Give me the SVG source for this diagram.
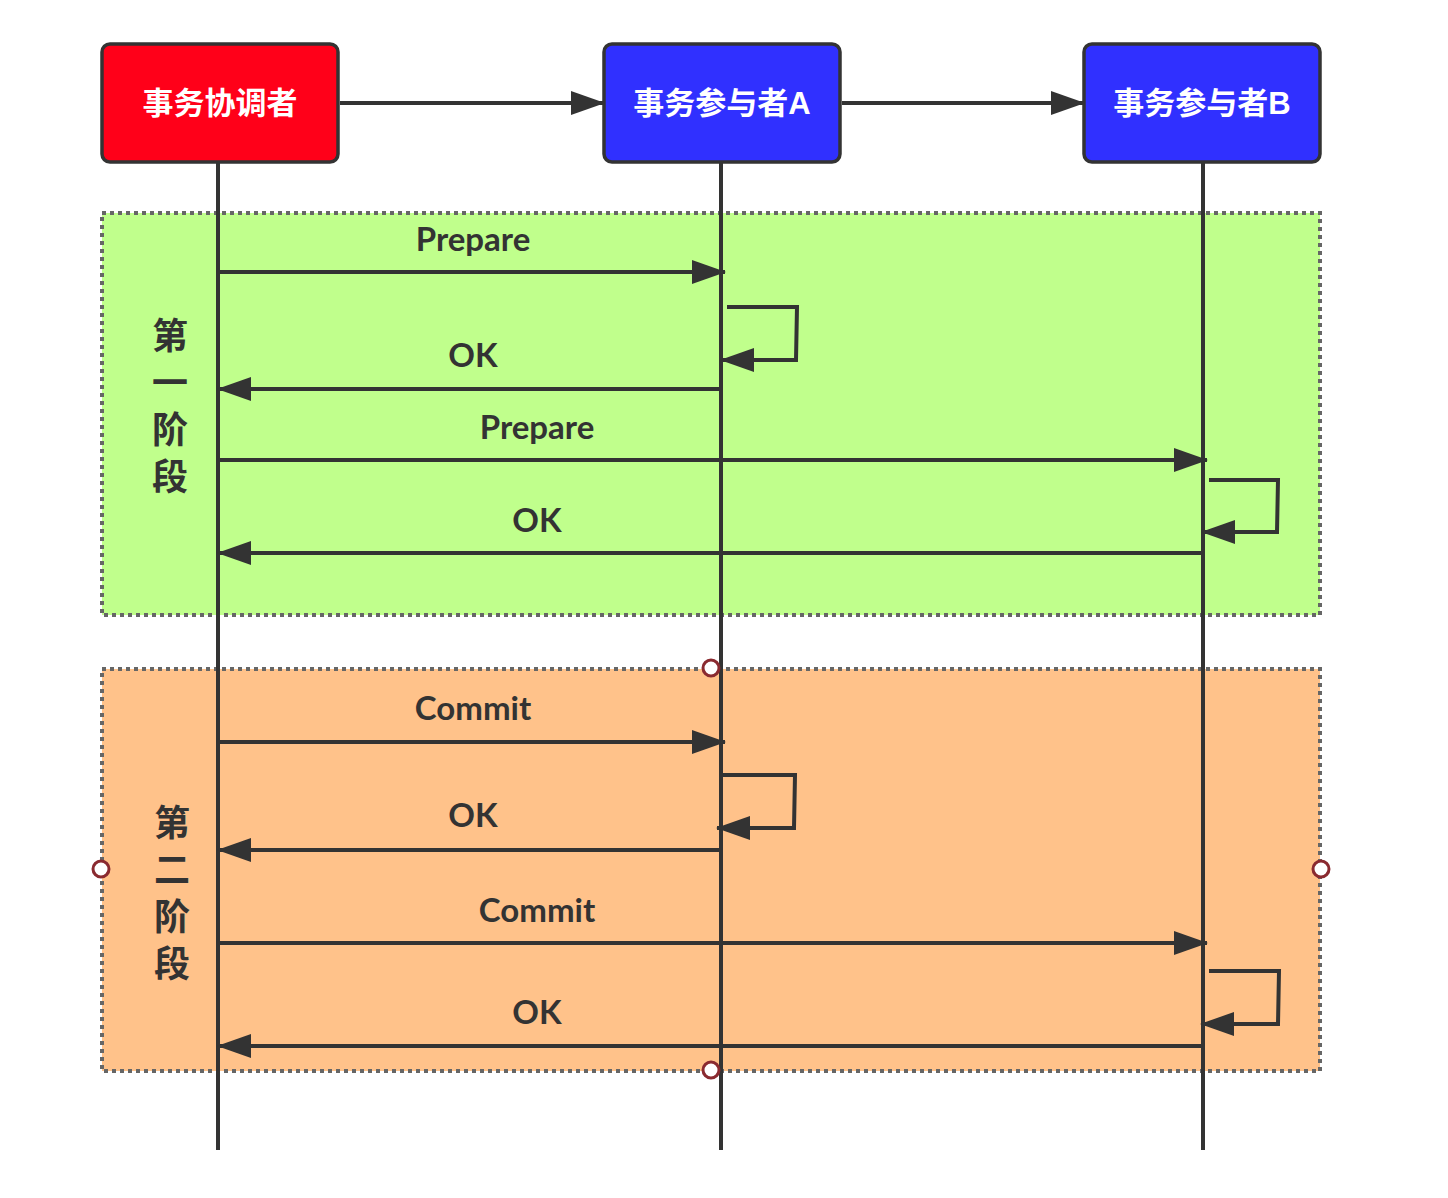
<svg xmlns="http://www.w3.org/2000/svg" width="1448" height="1198" viewBox="0 0 1448 1198">
<style>
.box{stroke:#333;stroke-width:3.5}
.btxt{fill:#fff;font-family:"Liberation Sans","Noto Sans CJK SC",sans-serif;font-weight:bold;font-size:31px;text-anchor:middle}
.lbl{fill:#333;font-family:Lato,"Open Sans",sans-serif;font-weight:bold;font-size:33px;text-anchor:middle}
.ph{fill:#333;font-family:"Noto Sans CJK SC",sans-serif;font-weight:bold;font-size:36px;writing-mode:tb;letter-spacing:11px}
.ln{stroke:#333;stroke-width:4;fill:none}
.msg{stroke:#333;stroke-width:4;fill:none;marker-end:url(#ah)}
.zone{stroke:#666;stroke-width:4;stroke-dasharray:4 4}
.hd{fill:#fff;stroke:#8a2a30;stroke-width:3}
</style>
<defs>
<marker id="ah" markerUnits="userSpaceOnUse" markerWidth="36" markerHeight="26" refX="33" refY="12" orient="auto">
<path d="M0,0 L34,12 L0,24 Z" fill="#333"/>
</marker>
</defs>
<rect width="1448" height="1198" fill="#fff"/>
<g id="phase1">
<rect class="zone" x="102" y="213" width="1218" height="402" fill="#C0FF8C"/>
<text class="ph" x="170" y="317">第一阶段</text>
</g>
<g id="phase2">
<rect class="zone" x="102" y="669" width="1218" height="402" fill="#FFC28A"/>
<text class="ph" x="172" y="804">第二阶段</text>
</g>
<g id="coordinator">
<rect class="box" x="102" y="44" width="236" height="118" rx="8" fill="#FF0019"/>
<text class="btxt" x="220" y="114">事务协调者</text>
</g>
<g id="participantA">
<rect class="box" x="604" y="44" width="236" height="118" rx="8" fill="#3030FF"/>
<text class="btxt" x="722" y="114">事务参与者A</text>
</g>
<g id="participantB">
<rect class="box" x="1084" y="44" width="236" height="118" rx="8" fill="#3030FF"/>
<text class="btxt" x="1202" y="114">事务参与者B</text>
</g>
<g id="connectors">
<line class="ln" x1="218" y1="163" x2="218" y2="1150"/>
<line class="ln" x1="721" y1="163" x2="721" y2="1150"/>
<line class="ln" x1="1203" y1="163" x2="1203" y2="1150"/>
<line class="msg" x1="340" y1="103" x2="604" y2="103"/>
<line class="msg" x1="842" y1="103" x2="1084" y2="103"/>
<line class="msg" x1="218" y1="272" x2="725" y2="272"/>
<path class="msg" d="M727,307 H797 L796,360 H721"/>
<line class="msg" x1="721" y1="389" x2="218" y2="389"/>
<line class="msg" x1="218" y1="460" x2="1207" y2="460"/>
<path class="msg" d="M1209,480 H1278 L1277,532 H1202"/>
<line class="msg" x1="1203" y1="553" x2="218" y2="553"/>
<line class="msg" x1="218" y1="742" x2="725" y2="742"/>
<path class="msg" d="M722,775 H795 L794,828 H717"/>
<line class="msg" x1="721" y1="850" x2="218" y2="850"/>
<line class="msg" x1="218" y1="943" x2="1207" y2="943"/>
<path class="msg" d="M1209,971 H1279 L1278,1024 H1201"/>
<line class="msg" x1="1203" y1="1046" x2="218" y2="1046"/>
<text class="lbl" x="473" y="251">Prepare</text>
<text class="lbl" x="473" y="367">OK</text>
<text class="lbl" x="537" y="439">Prepare</text>
<text class="lbl" x="537" y="532">OK</text>
<text class="lbl" x="473" y="720">Commit</text>
<text class="lbl" x="473" y="827">OK</text>
<text class="lbl" x="537" y="922">Commit</text>
<text class="lbl" x="537" y="1024">OK</text>
</g>
<g id="handles">
<circle class="hd" cx="711" cy="668" r="8"/>
<circle class="hd" cx="711" cy="1070" r="8"/>
<circle class="hd" cx="101" cy="869" r="8"/>
<circle class="hd" cx="1321" cy="869" r="8"/>
</g>
</svg>
